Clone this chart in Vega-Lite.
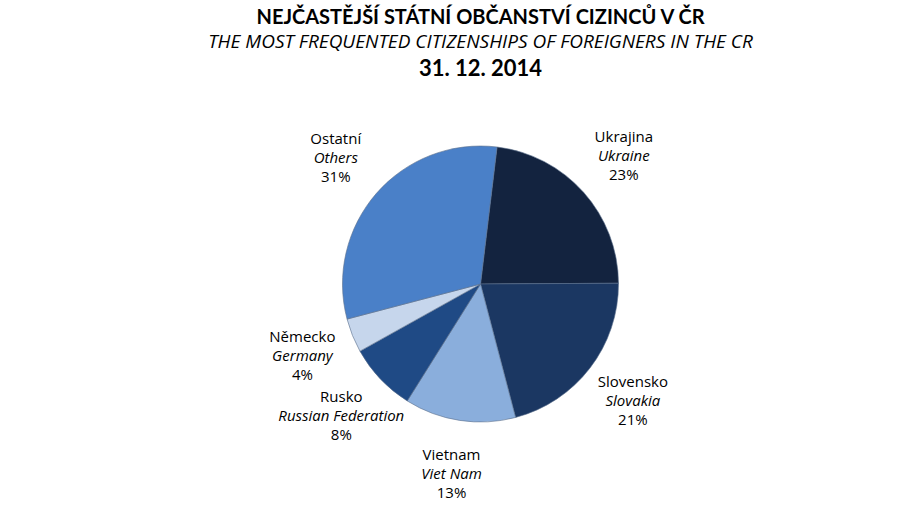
{
  "$schema": "https://vega.github.io/schema/vega-lite/v6.json",
  "padding": {"left": 60, "right": 0, "top": 8, "bottom": 0},
  "background": "white",
  "title": {
    "text": "NEJČASTĚJŠÍ STÁTNÍ OBČANSTVÍ CIZINCŮ V ČR",
    "subtitle": "THE MOST FREQUENTED CITIZENSHIPS OF FOREIGNERS IN THE CR",
    "anchor": "middle",
    "font": "Lato",
    "fontSize": 20,
    "fontWeight": "bold",
    "color": "#000000",
    "subtitleFont": "Open Sans",
    "subtitleFontSize": 19,
    "subtitleFontStyle": "italic",
    "subtitleColor": "#000000",
    "subtitlePadding": 5,
    "offset": 6
  },
  "data": {
    "values": [
      {"ord": 1, "cz": "Ukrajina", "en": "Ukraine", "pct": "23%", "value": 23},
      {"ord": 2, "cz": "Slovensko", "en": "Slovakia", "pct": "21%", "value": 21},
      {"ord": 3, "cz": "Vietnam", "en": "Viet Nam", "pct": "13%", "value": 13},
      {"ord": 4, "cz": "Rusko", "en": "Russian Federation", "pct": "8%", "value": 8},
      {"ord": 5, "cz": "Německo", "en": "Germany", "pct": "4%", "value": 4},
      {"ord": 6, "cz": "Ostatní", "en": "Others", "pct": "31%", "value": 31}
    ]
  },
  "vconcat": [
    {
      "title": {"text": "31. 12. 2014", "font": "Lato", "fontSize": 22, "fontWeight": "bold", "color": "#000000", "anchor": "middle", "offset": 8},
      "width": 841,
      "height": 390,
      "encoding": {
        "theta": {"field": "value", "type": "quantitative", "stack": true, "scale": {"range": [0.12, 6.4032]}},
        "order": {"field": "ord", "type": "quantitative"},
        "detail": {"field": "cz", "type": "nominal"}
      },
      "layer": [
        {
          "mark": {"type": "arc", "outerRadius": 138, "stroke": "#5a6f8c", "strokeWidth": 0.6},
          "encoding": {
            "color": {
              "field": "cz",
              "type": "nominal",
              "legend": null,
              "scale": {
                "domain": ["Ukrajina", "Slovensko", "Vietnam", "Rusko", "Německo", "Ostatní"],
                "range": ["#13233f", "#1b3762", "#8aaedc", "#1f4a85", "#c6d6ec", "#4a80c8"]
              }
            }
          }
        },
        {
          "mark": {"type": "text", "radius": 192, "dy": -19, "font": "Open Sans", "fontSize": 15, "color": "#000000"},
          "encoding": {"text": {"field": "cz", "type": "nominal"}}
        },
        {
          "mark": {"type": "text", "radius": 192, "dy": 0, "font": "Open Sans", "fontSize": 15, "fontStyle": "italic", "color": "#000000"},
          "encoding": {"text": {"field": "en", "type": "nominal"}}
        },
        {
          "mark": {"type": "text", "radius": 192, "dy": 19, "font": "Open Sans", "fontSize": 15, "color": "#000000"},
          "encoding": {"text": {"field": "pct", "type": "nominal"}}
        }
      ]
    }
  ],
  "config": {"view": {"stroke": null}, "concat": {"spacing": 0}}
}
